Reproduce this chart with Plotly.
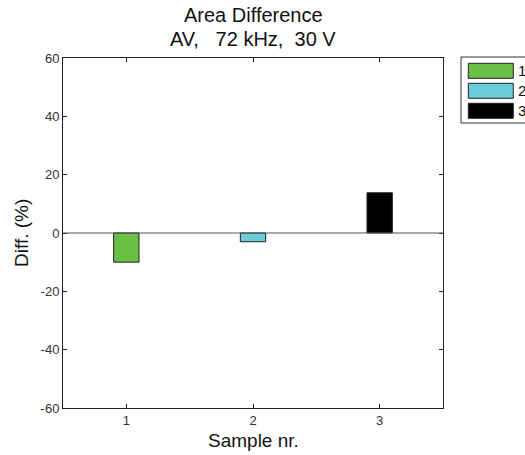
import plotly.graph_objects as go

samples = [1, 2, 3]
diff_values = [-10.0, -3.0, 13.8]
series_names = ["1", "2", "3"]
colors = ["#6abf45", "#6ccbdb", "#000000"]
y_ticks = [-60, -40, -20, 0, 20, 40, 60]
y_tick_labels = ["-60", "-40", "-20", "0", "20", "40", "60"]
title_lines = ["Area Difference", "AV,   72 kHz,  30 V"]
x_title = "Sample nr."
y_title = "Diff. (%)"

FONT = "Arial, Liberation Sans, sans-serif"
PH = 350.0  # plot height in px
PW = 380.0  # plot width in px

fig = go.Figure()
for s, v, n, c in zip(samples, diff_values, series_names, colors):
    fig.add_trace(go.Bar(x=[s], y=[v], name=n, width=0.2,
                         marker=dict(color=c, line=dict(color="#222222", width=1)),
                         showlegend=False))

# zero line
fig.add_shape(type="line", xref="paper", x0=0, x1=1, yref="y", y0=0, y1=0,
              line=dict(color="#555555", width=1.2))

# custom legend box
fig.add_shape(type="rect", xref="paper", yref="paper", x0=(461 - 63) / PW, x1=1.25,
              y0=(408 - 123) / PH, y1=(408 - 57) / PH,
              line=dict(color="#333333", width=1), fillcolor="white")
for i, (n, c) in enumerate(zip(series_names, colors)):
    top_px = 63.3 + 20 * i
    fig.add_shape(type="rect", xref="paper", yref="paper",
                  x0=(468.3 - 63) / PW, x1=(513.3 - 63) / PW,
                  y0=(408 - top_px - 15) / PH, y1=(408 - top_px) / PH, fillcolor=c,
                  line=dict(color="#222222", width=1))
    fig.add_annotation(xref="paper", yref="paper", x=(516 - 63) / PW,
                       y=(408 - top_px - 7.5) / PH, text=n,
                       showarrow=False, xanchor="left", yanchor="middle",
                       font=dict(family=FONT, size=15, color="#111111"))

# title lines
for k, line in enumerate(title_lines):
    fig.add_annotation(xref="paper", yref="paper", x=0.5, y=1 + (58 - (15.5 + 24 * k)) / PH,
                       text=line, showarrow=False, xanchor="center", yanchor="middle",
                       font=dict(family=FONT, size=20, color="#111111"))

# axis titles
fig.add_annotation(xref="paper", yref="paper", x=0.5, y=(408 - 440.5) / PH, text=x_title,
                   showarrow=False, xanchor="center", yanchor="middle",
                   font=dict(family=FONT, size=19, color="#111111"))
fig.add_annotation(xref="paper", yref="paper", x=(21 - 63) / PW, y=0.5, text=y_title,
                   textangle=-90, showarrow=False, xanchor="center", yanchor="middle",
                   font=dict(family=FONT, size=19, color="#111111"))

fig.update_layout(
    width=525, height=455,
    margin=dict(l=63, r=82, t=58, b=47),
    paper_bgcolor="white", plot_bgcolor="white",
    barmode="overlay",
    font=dict(family=FONT, color="#111111"),
    xaxis=dict(range=[0.5, 3.5], tickvals=samples, ticktext=[str(s) for s in samples],
               ticks="inside", ticklen=4, tickcolor="#222222", showgrid=False, zeroline=False,
               showline=True, linecolor="#222222", linewidth=1, mirror="ticks",
               tickfont=dict(size=13, color="#333333"), automargin=False),
    yaxis=dict(range=[-60, 60], tickvals=y_ticks, ticktext=y_tick_labels,
               ticks="inside", ticklen=4, tickcolor="#222222",
               showgrid=False, zeroline=False, showline=True, linecolor="#222222", linewidth=1,
               mirror="ticks", tickfont=dict(size=13, color="#333333"), automargin=False),
)

fig.write_html("out.html", config={"displayModeBar": False},
               post_script="document.body.style.margin='0';")
